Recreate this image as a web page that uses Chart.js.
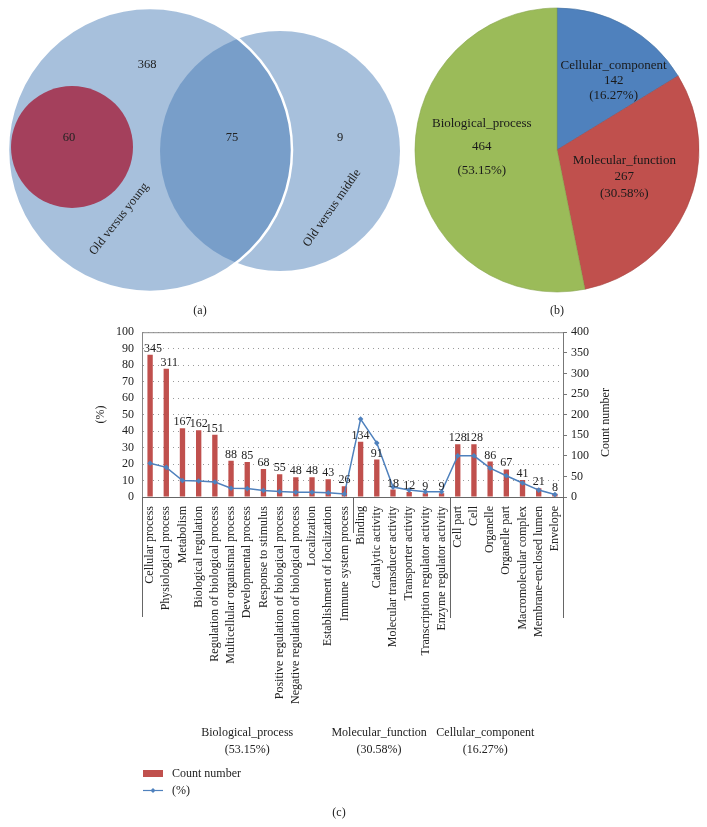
<!DOCTYPE html>
<html>
<head>
<meta charset="utf-8">
<script src="https://cdn.jsdelivr.net/npm/chart.js@4.4.0/dist/chart.umd.min.js"></script>
<style>
  body { margin: 0; background: #fff; width: 707px; height: 827px; position: relative; overflow: hidden;
         font-family: "Liberation Serif", serif; color: #222; }
  .box { position: absolute; }
  .cap { position: absolute; font-size: 12px; transform: translateX(-50%); }
</style>
</head>
<body>
<div class="box" style="left:0;top:0;width:410px;height:300px"><canvas id="venn"></canvas></div>
<div class="box" style="left:410px;top:0;width:294px;height:300px"><canvas id="pie"></canvas></div>
<div class="box" style="left:0;top:317px;width:707px;height:510px"><canvas id="bar"></canvas></div>
<div class="cap" style="left:200px;top:303px">(a)</div>
<div class="cap" style="left:557px;top:303px">(b)</div>
<script>
// ---- (a) venn ----
const vennNames = ["Old versus middle", "Old versus young", "Old versus young (sub)"];
const vennX = [280, 150, 72];
const vennY = [151, 150, 147];
const vennR = [120, 142, 61];
const vennCounts = ["368", "60", "75", "9"];

// ---- (b) pie ----
const pieLabels = ["Cellular_component", "Molecular_function", "Biological_process"];
const pieValues = [142, 267, 464];

// ---- (c) bar + line ----
const categories = [
  "Cellular process", "Physiological process", "Metabolism", "Biological regulation",
  "Regulation of biological process", "Multicellular organismal process", "Developmental process",
  "Response to stimulus", "Positive regulation of biological process",
  "Negative regulation of biological process", "Localization", "Establishment of localization",
  "Immune system process",
  "Binding", "Catalytic activity", "Molecular transducer activity", "Transporter activity",
  "Transcription regulator activity", "Enzyme regulator activity",
  "Cell part", "Cell", "Organelle", "Organelle part", "Macromolecular complex",
  "Membrane-enclosed lumen", "Envelope"
];
const counts = [345, 311, 167, 162, 151, 88, 85, 68, 55, 48, 48, 43, 26,
                134, 91, 18, 12, 9, 9,
                128, 128, 86, 67, 41, 21, 8];
const percents = [20.5, 18, 10, 9.7, 9.1, 5.3, 5.1, 4, 3.3, 2.9, 2.9, 2.6, 1.8,
                  47.3, 32.7, 6, 4.2, 3.2, 3.2,
                  25, 25, 17.5, 12.9, 8.5, 4.2, 1.5];
const groupNames = ["Biological_process", "Molecular_function", "Cellular_component"];
const groupPcts = ["(53.15%)", "(30.58%)", "(16.27%)"];
const groupSizes = [13, 6, 7];

Chart.defaults.font.family = '"Liberation Serif", serif';
Chart.defaults.font.size = 12;
Chart.defaults.color = "#222";
Chart.defaults.animation = false;

const FONT = '12px "Liberation Serif", serif';

// venn labels
const vennText = {
  id: "vennText",
  afterDatasetsDraw(chart) {
    const { ctx, scales: { x, y } } = chart;
    ctx.save();
    ctx.fillStyle = "#222";
    ctx.font = '12.5px "Liberation Serif", serif';
    ctx.textAlign = "center";
    ctx.textBaseline = "middle";
    ctx.fillText(vennCounts[0], x.getPixelForValue(147), y.getPixelForValue(65));
    ctx.fillText(vennCounts[1], x.getPixelForValue(69), y.getPixelForValue(138));
    ctx.fillText(vennCounts[2], x.getPixelForValue(232), y.getPixelForValue(138));
    ctx.fillText(vennCounts[3], x.getPixelForValue(340), y.getPixelForValue(138));
    const rot = (name, px, py, deg) => {
      ctx.save();
      ctx.translate(x.getPixelForValue(px), y.getPixelForValue(py));
      ctx.rotate(-deg * Math.PI / 180);
      ctx.fillText(name, 0, 0);
      ctx.restore();
    };
    rot(vennNames[1], 119, 219, 52);
    rot(vennNames[0], 332, 208, 55);
    ctx.restore();
  }
};

new Chart(document.getElementById("venn"), {
  type: "bubble",
  data: {
    datasets: [
      { data: [{ x: vennX[0], y: vennY[0], r: vennR[0] }], backgroundColor: "rgba(66,120,180,0.466)",
        borderWidth: 0, order: 3, clip: false },
      { data: [{ x: vennX[1], y: vennY[1], r: vennR[1] }], backgroundColor: "rgba(66,120,180,0.466)",
        borderColor: "#fff", borderWidth: 2.5, order: 2, clip: false },
      { data: [{ x: vennX[2], y: vennY[2], r: vennR[2] }], backgroundColor: "#A4405C",
        borderWidth: 0, order: 1, clip: false }
    ]
  },
  options: {
    responsive: true, maintainAspectRatio: false, events: [],
    layout: { padding: 0, autoPadding: false },
    plugins: { legend: { display: false }, tooltip: { enabled: false } },
    scales: {
      x: { type: "linear", min: 0, max: 410, display: false },
      y: { type: "linear", min: 0, max: 300, reverse: true, display: false }
    }
  },
  plugins: [vennText]
});

// pie labels
const pieLabelPos = [[0.63, 10], [0.51, -2], [0.53, 8]];
const pieLineGap = [15, 16.5, 23.5];
const pieText = {
  id: "pieText",
  afterDatasetsDraw(chart) {
    const { ctx } = chart;
    const total = pieValues.reduce((a, b) => a + b, 0);
    ctx.save();
    ctx.fillStyle = "#1a1a1a";
    ctx.font = '13px "Liberation Serif", serif';
    ctx.textAlign = "center";
    ctx.textBaseline = "middle";
    chart.getDatasetMeta(0).data.forEach((arc, i) => {
      const p = arc.getProps(["x", "y", "startAngle", "endAngle", "outerRadius"]);
      const mid = (p.startAngle + p.endAngle) / 2 + pieLabelPos[i][1] * Math.PI / 180;
      const cx = p.x + Math.cos(mid) * p.outerRadius * pieLabelPos[i][0];
      const cy = p.y + Math.sin(mid) * p.outerRadius * pieLabelPos[i][0];
      const g = pieLineGap[i];
      ctx.fillText(pieLabels[i], cx, cy - g);
      ctx.fillText(String(pieValues[i]), cx, cy);
      ctx.fillText("(" + (pieValues[i] / total * 100).toFixed(2) + "%)", cx, cy + g);
    });
    ctx.restore();
  }
};

new Chart(document.getElementById("pie"), {
  type: "pie",
  data: {
    labels: pieLabels,
    datasets: [{
      data: pieValues,
      backgroundColor: ["#4F81BD", "#C0504D", "#9BBB59"],
      borderColor: ["#44709f", "#a84542", "#86a44c"],
      borderWidth: 0.6
    }]
  },
  options: {
    responsive: true, maintainAspectRatio: false, events: [],
    radius: 142,
    layout: { padding: 0 },
    plugins: { legend: { display: false }, tooltip: { enabled: false } }
  },
  plugins: [pieText]
});

// bar chart extras: count labels, separators, group labels, legend
const sepBottoms = [300, 216, 301, 301];
const groupShift = [0, -22, -21];
const barExtras = {
  id: "barExtras",
  afterDatasetsDraw(chart) {
    const { ctx } = chart;
    ctx.save();
    ctx.fillStyle = "#222";
    ctx.font = FONT;
    ctx.textAlign = "center";
    ctx.textBaseline = "alphabetic";
    chart.getDatasetMeta(0).data.forEach((b, i) => {
      ctx.fillText(String(counts[i]), b.x + (i < 2 ? 3 : 0), b.y - 3);
    });
    ctx.restore();
  },
  afterDraw(chart) {
    const { ctx, chartArea: a } = chart;
    ctx.save();
    ctx.strokeStyle = "#8c8c8c";
    ctx.lineWidth = 1;
    ctx.beginPath();
    ctx.moveTo(a.left, a.top + 0.5);
    ctx.lineTo(a.right, a.top + 0.5);
    ctx.stroke();

    // group separators
    ctx.strokeStyle = "#666";
    const step = (a.right - a.left) / categories.length;
    let idx = 0;
    const bounds = [0];
    groupSizes.forEach(s => { idx += s; bounds.push(idx); });
    bounds.forEach((b, k) => {
      const px = Math.round(a.left + b * step) + 0.5;
      ctx.beginPath();
      ctx.moveTo(px, a.bottom);
      ctx.lineTo(px, sepBottoms[k]);
      ctx.stroke();
    });

    // group labels
    ctx.fillStyle = "#222";
    ctx.font = FONT;
    ctx.textAlign = "center";
    ctx.textBaseline = "middle";
    groupNames.forEach((g, k) => {
      const cx = a.left + (bounds[k] + bounds[k + 1]) / 2 * step + groupShift[k];
      ctx.fillText(g, cx, 416);
      ctx.fillText(groupPcts[k], cx, 433);
    });

    // right axis title
    ctx.save();
    ctx.translate(606, (a.top + a.bottom) / 2 + 8);
    ctx.rotate(-Math.PI / 2);
    ctx.fillText("Count number", 0, 0);
    ctx.restore();

    // legend
    ctx.fillStyle = "#C0504D";
    ctx.fillRect(143, 453, 20, 7);
    ctx.strokeStyle = "#4F81BD";
    ctx.lineWidth = 1.2;
    ctx.beginPath();
    ctx.moveTo(143, 473.5);
    ctx.lineTo(163, 473.5);
    ctx.stroke();
    ctx.fillStyle = "#4F81BD";
    ctx.beginPath();
    ctx.moveTo(153, 471); ctx.lineTo(155.5, 473.5); ctx.lineTo(153, 476); ctx.lineTo(150.5, 473.5);
    ctx.closePath();
    ctx.fill();
    ctx.fillStyle = "#222";
    ctx.textAlign = "left";
    ctx.fillText("Count number", 172, 456.5);
    ctx.fillText("(%)", 172, 473.5);
    ctx.textAlign = "center";
    ctx.fillText("(c)", 339, 496);
    ctx.restore();
  }
};

new Chart(document.getElementById("bar"), {
  type: "bar",
  data: {
    labels: categories,
    datasets: [
      { type: "bar", label: "Count number", data: counts, yAxisID: "yR",
        backgroundColor: "#C0504D", barPercentage: 0.33, categoryPercentage: 1, order: 1 },
      { type: "line", label: "(%)", data: percents, yAxisID: "yL",
        borderColor: "#4F81BD", borderWidth: 1.5, pointStyle: "rectRot", pointRadius: 2.8,
        pointBackgroundColor: "#4F81BD", pointBorderWidth: 0, tension: 0, order: 0 }
    ]
  },
  options: {
    responsive: true, maintainAspectRatio: false, events: [],
    layout: { padding: { top: 6, left: 88, right: 89, bottom: 0 } },
    plugins: { legend: { display: false }, tooltip: { enabled: false } },
    scales: {
      x: {
        grid: { display: false },
        border: { display: true, color: "#666" },
        ticks: { autoSkip: false, minRotation: 90, maxRotation: 90, padding: 1, color: "#222",
                 font: { size: 12 } },
        afterFit: s => { s.height = 330; }
      },
      yL: {
        position: "left", min: 0, max: 100,
        ticks: { stepSize: 10, padding: 8, color: "#222", autoSkip: false },
        grid: { color: "#9a9a9a", drawTicks: false },
        border: { display: true, color: "#888", dash: [1, 4] },
        title: { display: true, text: "(%)", padding: { top: 6, bottom: 4 }, color: "#222" },
        afterFit: s => { s.width = 54; }
      },
      yR: {
        position: "right", min: 0, max: 400,
        ticks: { stepSize: 50, padding: 4, color: "#222", autoSkip: false },
        grid: { drawOnChartArea: false, drawTicks: true, tickLength: 4, color: "#777" },
        border: { display: true, color: "#777" },
        afterFit: s => { s.width = 55; }
      }
    }
  },
  plugins: [barExtras]
});
</script>
</body>
</html>
